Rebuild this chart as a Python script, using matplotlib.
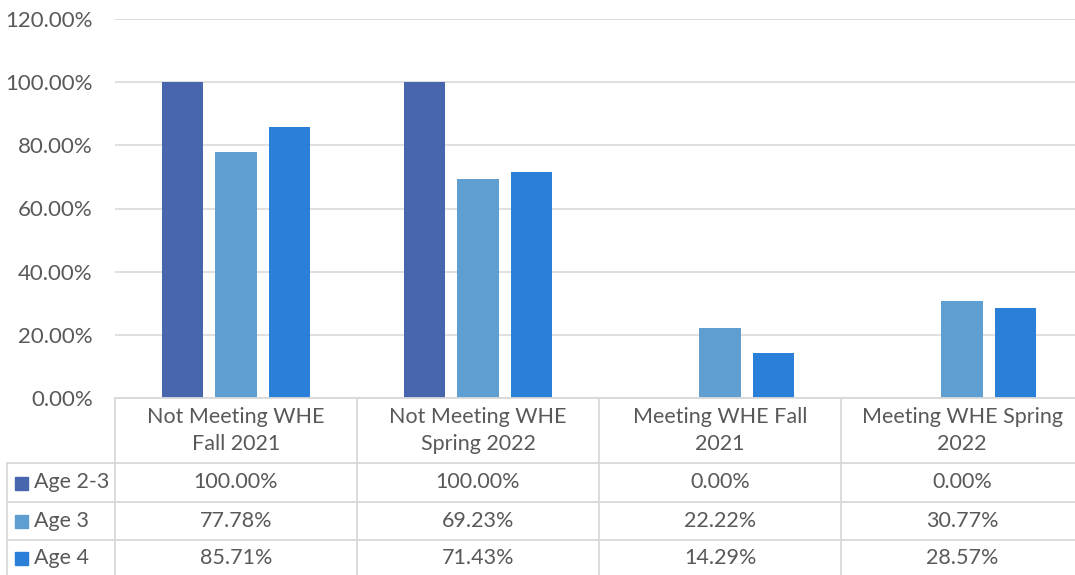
import matplotlib.pyplot as plt
import numpy as np

categories = ["Not Meeting WHE\nFall 2021", "Not Meeting WHE\nSpring 2022",
              "Meeting WHE Fall\n2021", "Meeting WHE Spring\n2022"]
series = ["Age 2-3", "Age 3", "Age 4"]
age_2_3 = [100.00, 100.00, 0.00, 0.00]
age_3 = [77.78, 69.23, 22.22, 30.77]
age_4 = [85.71, 71.43, 14.29, 28.57]
values = [age_2_3, age_3, age_4]
colors = ["#4866AD", "#5F9ED1", "#2A7FD8"]

W, H = 1075, 575
plt.rcParams['font.family'] = ['Lato', 'DejaVu Sans']
txt = "#595959"
grid = "#D9D9D9"
fs = 15.5

fig = plt.figure(figsize=(W / 100, H / 100), dpi=100)

# plot area in pixel coords
px_l, px_r, px_t, px_b = 115, 1083, 19, 398
ax = fig.add_axes([px_l / W, 1 - px_b / H, (px_r - px_l) / W, (px_b - px_t) / H])
n = len(categories)
x = np.arange(n)
bw = 0.17
gap = 0.05
for i, (vals, c) in enumerate(zip(values, colors)):
    ax.bar(x + (i - 1) * (bw + gap), vals, bw, color=c, zorder=3)
ax.set_xlim(-0.5, n - 0.5)
ax.set_ylim(0, 120)
yt = np.arange(0, 121, 20)
ax.set_yticks(yt)
ax.set_yticklabels(["%.2f%%" % v for v in yt], color=txt, fontsize=16)
ax.tick_params(axis='y', length=0, pad=16)
ax.set_xticks([])
ax.grid(axis='y', color=grid, linewidth=1.2, zorder=0)
for s in ax.spines.values():
    s.set_visible(False)

# data table drawn in pixel space
tb = fig.add_axes([0, 0, 1, 1])
tb.set_xlim(0, W)
tb.set_ylim(H, 0)
tb.axis('off')
tb.patch.set_alpha(0)
col_edges = [px_l + k * (px_r - px_l) / n for k in range(n + 1)]
row_edges = [398, 463, 502, 540, 578]
lw = 1.3
for xe in col_edges:
    tb.plot([xe, xe], [398, H], color=grid, lw=lw)
tb.plot([7, 7], [463, H], color=grid, lw=lw)
tb.plot([px_l, px_r], [398, 398], color=grid, lw=lw)
for ye in row_edges[1:4]:
    tb.plot([7, px_r], [ye, ye], color=grid, lw=lw)

for k, cat in enumerate(categories):
    cx = (col_edges[k] + col_edges[k + 1]) / 2
    tb.text(cx, (398 + 463) / 2, cat, ha='center', va='center', color=txt,
            fontsize=fs, linespacing=1.45)
for r, (name, vals, c) in enumerate(zip(series, values, colors)):
    cy = (row_edges[r + 1] + row_edges[r + 2]) / 2
    if r == 2:
        cy = 558
    tb.add_patch(plt.Rectangle((15, cy - 6), 13, 13, color=c))
    tb.text(34, cy, name, ha='left', va='center', color=txt, fontsize=fs)
    for k, v in enumerate(vals):
        cx = (col_edges[k] + col_edges[k + 1]) / 2
        tb.text(cx, cy, "%.2f%%" % v, ha='center', va='center', color=txt, fontsize=fs)

fig.savefig("out.png", dpi=100)
